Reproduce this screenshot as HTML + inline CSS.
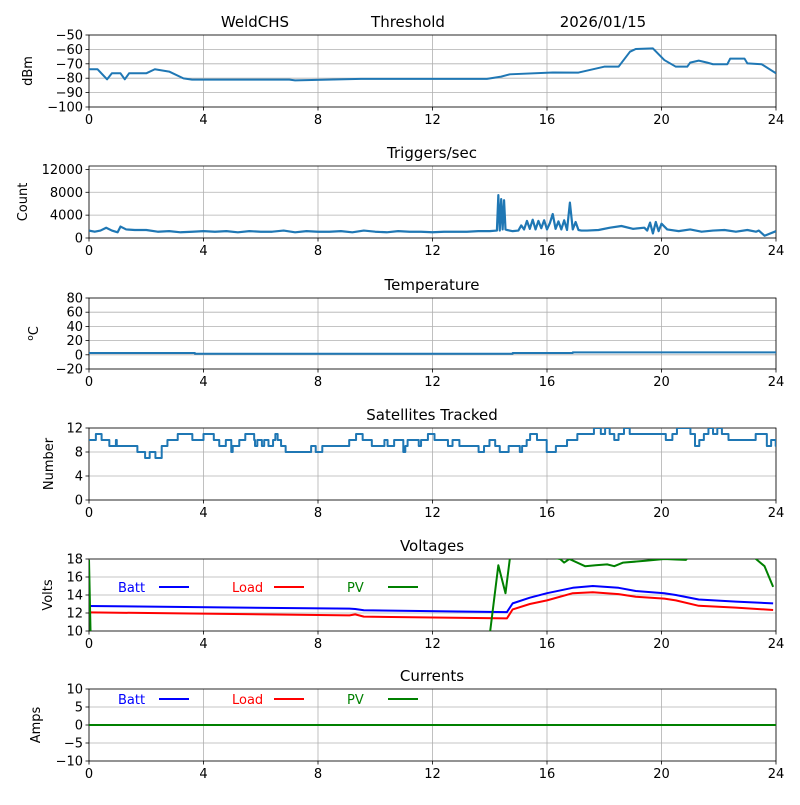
<!DOCTYPE html>
<html><head><meta charset="utf-8"><style>
body{margin:0;background:#fff}
svg text{font-family:"DejaVu Sans","Liberation Sans",sans-serif;}
</style></head><body>
<svg id="fig" width="800" height="800" xmlns="http://www.w3.org/2000/svg"></svg>
<script>
// ---- data ----
const xTicks=[0,4,8,12,16,20,24];
const rssiH=[0,0.3,0.63,0.8,1.1,1.25,1.4,2.0,2.3,2.8,3.3,3.6,7.0,7.2,9.5,13.9,14.4,14.7,16.2,17.1,18.0,18.5,18.9,19.1,19.7,20.1,20.5,20.9,21.0,21.3,21.6,21.8,22.3,22.4,22.9,23.0,23.5,24];
const rssiV=[-73.8,-73.8,-80.8,-76.6,-76.6,-80.8,-76.6,-76.6,-73.8,-75.4,-80.1,-81,-81,-81.5,-80.5,-80.5,-78.9,-77.3,-76,-76.1,-72,-72,-61.6,-59.7,-59.3,-67.4,-72,-72,-69.2,-67.8,-69.2,-70.3,-70.3,-66.4,-66.4,-69.7,-70.3,-76.6];
const trigH=[0,0.2,0.4,0.6,0.8,1.0,1.1,1.3,1.6,2.0,2.4,2.8,3.2,3.6,4.0,4.4,4.8,5.2,5.6,6.0,6.4,6.8,7.2,7.6,8.0,8.4,8.8,9.2,9.6,10.0,10.4,10.8,11.2,11.6,12.0,12.4,12.8,13.2,13.6,14.0,14.25,14.3,14.35,14.4,14.45,14.5,14.55,14.6,14.8,15.0,15.1,15.2,15.3,15.4,15.5,15.6,15.7,15.8,15.9,16.0,16.1,16.2,16.3,16.4,16.5,16.6,16.7,16.8,16.9,17.0,17.1,17.2,17.4,17.8,18.2,18.6,19.0,19.4,19.5,19.6,19.7,19.8,19.9,20.0,20.2,20.6,21.0,21.4,21.8,22.2,22.6,23.0,23.3,23.4,23.6,24];
const trigV=[1300,1100,1300,1800,1300,1000,2000,1500,1400,1400,1100,1200,1000,1100,1200,1100,1200,1000,1200,1100,1100,1300,1000,1200,1100,1100,1200,1000,1300,1100,1000,1200,1100,1100,1000,1100,1100,1100,1200,1200,1300,7500,1300,6800,1500,6600,1500,1400,1200,1300,2200,1500,3000,1600,3200,1500,3000,1700,3100,1500,2600,4200,1600,2900,1500,3100,1400,6200,1500,2800,1400,1300,1300,1400,1800,2100,1600,1800,1300,2700,800,2800,1200,2500,1500,1200,1500,1100,1300,1400,1100,1400,1100,1300,400,1200,1100,1100];
const tempH=[0,3.6,3.7,14.7,14.8,16.8,16.9,24];
const tempV=[2.5,2.5,1.5,1.5,2.5,2.5,3.5,3.5];
const satH=[0,0.24,0.44,0.71,0.94,0.97,1.69,1.96,2.12,2.32,2.54,2.74,3.10,3.61,4.00,4.36,4.55,4.78,4.97,5.02,5.25,5.46,5.77,5.80,5.88,6.04,6.12,6.27,6.43,6.51,6.59,6.71,6.87,7.76,7.92,8.15,9.09,9.33,9.56,9.88,10.32,10.43,10.66,10.98,11.05,11.13,11.52,11.60,11.84,12.07,12.54,12.70,12.94,13.61,13.80,13.99,14.19,14.35,14.66,15.05,15.13,15.29,15.41,15.65,15.99,16.31,16.70,17.06,17.64,17.88,18.03,18.19,18.35,18.50,18.69,18.89,20.15,20.38,20.54,21.01,21.17,21.32,21.48,21.64,21.80,21.95,22.11,22.34,23.29,23.68,23.83,23.99,24];
const satV=[10,11,10,9,10,9,8,7,8,7,9,10,11,10,11,10,9,10,8,9,10,11,10,9,10,9,10,9,10,11,10,9,8,9,8,9,10,11,10,9,10,9,10,8,9,10,9,10,11,10,9,10,9,8,9,10,9,8,9,8,9,10,11,10,8,9,10,11,12,11,12,11,10,11,12,11,10,11,12,11,9,10,11,12,11,12,11,10,11,9,10,9,10,10];
const voltH=[0,9.1,9.3,9.6,14.6,14.8,15.4,16.0,16.9,17.6,18.5,19.1,20.1,20.5,21.3,22.6,23.9];
const battV=[12.78,12.48,12.45,12.3,12.1,13.07,13.7,14.2,14.8,15.0,14.8,14.44,14.2,14.0,13.5,13.26,13.07];
const loadV=[12.07,11.74,11.85,11.6,11.4,12.4,13.0,13.4,14.2,14.3,14.1,13.8,13.6,13.4,12.8,12.6,12.33];
const pvH=[0,0.12,13.9,14.0,14.3,14.55,14.74,16.46,16.6,16.78,17.33,17.7,18.1,18.35,18.66,19.44,20.1,20.5,20.85,21.2,23.0,23.3,23.6,23.9];
const pvV=[17.9,0,0,9.6,17.3,14.2,19,18.0,17.6,18.0,17.2,17.3,17.4,17.2,17.6,17.8,18,17.95,17.9,19,19,18,17.2,14.9];
const curH=[0,24];
const battI=[0,0];
const loadI=[0,0];
const pvI=[0,0];
const rssiTicks=[-50,-60,-70,-80,-90,-100];
const trigTicks=[0,4000,8000,12000];
const tempTicks=[-20,0,20,40,60,80];
const satTicks=[0,4,8,12];
const voltTicks=[10,12,14,16,18];
const curTicks=[-10,-5,0,5,10];

const NS="http://www.w3.org/2000/svg";
const svg=document.getElementById('fig');
const X0=89,X1=776;
function el(tag,attrs,parent){const e=document.createElementNS(NS,tag);for(const k in attrs)e.setAttribute(k,attrs[k]);(parent||svg).appendChild(e);return e;}
function xs(h){return X0+(h/24)*(X1-X0);}
function panel(name,top,bot,ymin,ymax,ticks,ylabel,title){
  const g=el('g',{});
  
  
  const ys=v=>bot-(v-ymin)/(ymax-ymin)*(bot-top);
  const cid='clip-'+name;
  const cp=el('clipPath',{id:cid},g);el('rect',{x:X0,y:top,width:X1-X0,height:bot-top},cp);
  xTicks.forEach(t=>{const l=el('line',{x1:xs(t),x2:xs(t),y1:top,y2:bot,stroke:'#b0b0b0','stroke-width':0.8},g);
    });
  ticks.forEach(t=>{const y=ys(t);const l=el('line',{x1:X0,x2:X1,y1:y,y2:y,stroke:'#b0b0b0','stroke-width':0.8},g);
    
    el('line',{x1:X0-3.5,x2:X0,y1:y,y2:y,stroke:'#000','stroke-width':0.8},g);
    const tx=el('text',{x:X0-6,y:y+4.5,'text-anchor':'end','font-size':13},g);tx.textContent=String(t).replace('-','\u2212');
    });
  xTicks.forEach(t=>{el('line',{x1:xs(t),x2:xs(t),y1:bot,y2:bot+3.5,stroke:'#000','stroke-width':0.8},g);
    const tx=el('text',{x:xs(t),y:bot+17,'text-anchor':'middle','font-size':13},g);tx.textContent=t;
    });
  const r=el('rect',{x:X0,y:top,width:X1-X0,height:bot-top,fill:'none',stroke:'#000','stroke-width':0.8},g);
  
  const yl=el('text',{transform:`translate(${ylabel.x},${(top+bot)/2}) rotate(-90)`,'text-anchor':'middle','font-size':13},g);
  if(ylabel.sup){const s=el('tspan',{'font-size':9,dy:-5},yl);s.textContent='o';const s2=el('tspan',{dy:5},yl);s2.textContent='C';}
  else yl.textContent=ylabel.t;
  
  if(title){const tt=el('text',{x:432,y:top-8,'text-anchor':'middle','font-size':15},g);tt.textContent=title;
    }
  return {g,ys,cid};
}
function line(p,H,V,color,name,step,w){
  let d='';
  for(let i=0;i<H.length;i++){const x=xs(H[i]),y=p.ys(V[i]);
    if(i===0)d='M'+x+','+y;else if(step)d+=' H'+x+' V'+y;else d+=' L'+x+','+y;}
  if(step)d+=' H'+xs(24);
  const e=el('path',{d:d,fill:'none',stroke:color,'stroke-width':w||1.5,'clip-path':`url(#${p.cid})`,'stroke-linejoin':'round'},p.g);
  
  
}
function legend(p,y){
  [['Batt','#0000ff',118,159],['Load','#ff0000',232,274],['PV','#008000',347,388]].forEach(([t,c,tx,lx])=>{
    const te=el('text',{x:tx,y:y+5,'font-size':13,fill:c},p.g);te.textContent=t;
    
    const le=el('line',{x1:lx,x2:lx+30,y1:y,y2:y,stroke:c,'stroke-width':2},p.g);
    
  });
}
// header
[['WeldCHS',255],['Threshold',408],['2026/01/15',603]].forEach(([t,x])=>{
  const e=el('text',{x:x,y:27,'text-anchor':'middle','font-size':15});e.textContent=t;
  });
const p1=panel('rssi',35,107,-100,-50,rssiTicks,{x:32,t:'dBm'},null);
line(p1,rssiH,rssiV,'#1f77b4','rssi-line',false,2);
const p2=panel('triggers',166,238,0,12600,trigTicks,{x:27,t:'Count'},'Triggers/sec');
line(p2,trigH,trigV,'#1f77b4','triggers-line',false,2.2);
const p3=panel('temperature',298,369,-20,80,tempTicks,{x:38,sup:true},'Temperature');
line(p3,tempH,tempV,'#1f77b4','temperature-line',true,2);
const p4=panel('satellites',428,500,0,12,satTicks,{x:53,t:'Number'},'Satellites Tracked');
line(p4,satH,satV,'#1f77b4','satellites-line',true,2);
const p5=panel('voltages',559,631,10,18,voltTicks,{x:52,t:'Volts'},'Voltages');
line(p5,voltH,battV,'#0000ff','batt-voltage-line',false,2);
line(p5,voltH,loadV,'#ff0000','load-voltage-line',false,2);
line(p5,pvH,pvV,'#008000','pv-voltage-line',false,2);
legend(p5,587);
const p6=panel('currents',689,761,-10,10,curTicks,{x:40,t:'Amps'},'Currents');
line(p6,curH,battI,'#0000ff','batt-current-line',false,2);
line(p6,curH,loadI,'#ff0000','load-current-line',false,2);
line(p6,curH,pvI,'#008000','pv-current-line',false,2);
legend(p6,699);
</script>
</body></html>
